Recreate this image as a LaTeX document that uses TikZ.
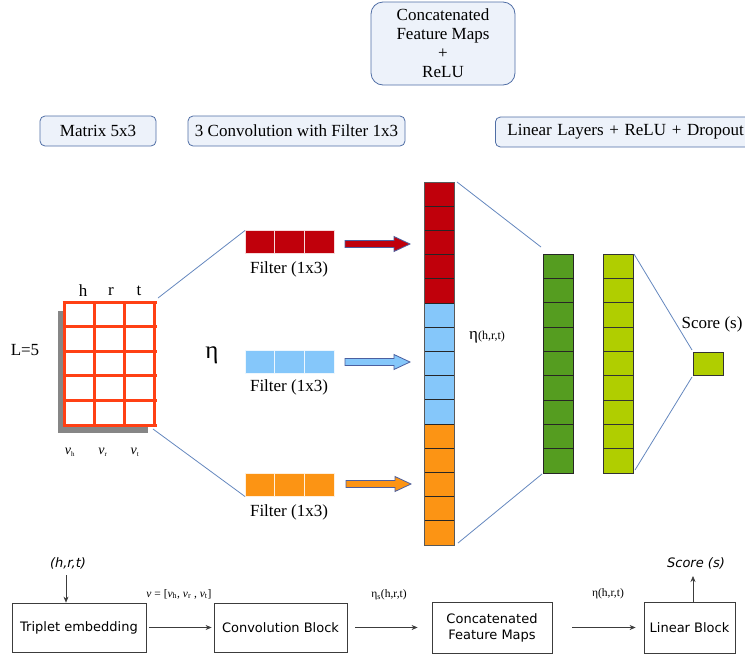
\documentclass[tikz,border=0pt]{standalone}
\usepackage{fontspec}
\setmainfont{Liberation Serif}
\newfontfamily\flowfont{DejaVu Sans}
\usetikzlibrary{arrows.meta}
\definecolor{cred}{RGB}{192,0,11}
\definecolor{cblue}{RGB}{133,199,250}
\definecolor{corange}{RGB}{252,148,20}
\definecolor{cgreen}{RGB}{85,157,32}
\definecolor{clime}{RGB}{176,206,0}
\definecolor{cgrid}{RGB}{255,64,20}
\definecolor{cline}{RGB}{100,135,190}
\definecolor{bxborder}{RGB}{80,110,165}
\definecolor{bxfill}{RGB}{237,242,250}
\definecolor{flowgray}{RGB}{60,60,60}
\definecolor{arrborder}{RGB}{75,95,160}
\tikzset{
  lbl/.style={draw=bxborder, fill=bxfill, rounded corners=5pt, line width=0.8pt,
    font=\fontsize{17}{19}\selectfont, inner sep=0pt, minimum height=30pt},
  conn/.style={draw=cline, line width=0.8pt},
  txt/.style={font=\fontsize{17}{19}\selectfont, inner sep=0pt},
  colbox/.style={minimum width=30pt, inner sep=0pt, outer sep=0pt},
  filt/.style={minimum width=89pt, minimum height=23pt, inner sep=0pt, outer sep=0pt},
  blockarrow/.style={line width=0.8pt, draw=arrborder, line join=miter},
  flowbox/.style={draw=flowgray, line width=0.8pt, font=\flowfont\fontsize{13}{16}\selectfont,
    inner sep=0pt, align=center},
  flowarrow/.style={draw=flowgray, line width=0.6pt, -{Stealth[length=6pt,width=5pt]}},
  flowtxt/.style={font=\fontsize{11.5}{13}\selectfont, inner sep=0pt},
}
% block arrow: x0, y, x1, fill colour
\newcommand{\myblockarrow}[4]{%
  \draw[blockarrow, fill=#4] (#1,#2-3.5) -- (#3-16,#2-3.5) -- (#3-16,#2-7.5) -- (#3,#2)
    -- (#3-16,#2+7.5) -- (#3-16,#2+3.5) -- (#1,#2+3.5) -- cycle;}
\begin{document}
\begin{tikzpicture}[x=1pt,y=-1pt]
\useasboundingbox (0,0) rectangle (745,654);

% ---- top labels
\node[lbl, minimum width=144pt, minimum height=83pt, rounded corners=12pt, align=center,
  font=\fontsize{17}{19}\selectfont] (cfmtop) at (443,43.5)
  {Concatenated\\Feature Maps\\+\\ReLU};
\node[lbl, minimum width=116pt] (mlbl) at (98,131) {Matrix 5x3};
\node[lbl, minimum width=217pt] (clbl) at (296.5,131) {3 Convolution with Filter 1x3};
\node[lbl, minimum width=262pt, anchor=west, text width=262pt, align=left] (llbl) at (495,132)
  {\hspace*{12pt}Linear Layers + ReLU + Dropout};

% ---- matrix
\fill[gray!95] (58,311) rectangle (148,433);
\node[fill=white, minimum width=91pt, minimum height=123pt, inner sep=0pt, outer sep=0pt]
  (mat) at (109.5,363.5) {};
\foreach \i in {0,1,2,3} \draw[cgrid, line width=3pt] (64+\i*30.33,302) -- (64+\i*30.33,425);
\foreach \j in {0,...,5} \draw[cgrid, line width=3pt] (62.5,302+\j*24.6) -- (156.5,302+\j*24.6);
\node[txt] (lh) at (83,291) {h};
\node[txt] (lr) at (111,291) {r};
\node[txt] (lt) at (139,291) {t};
\node[txt] (l5) at (25,350) {L=5};
\node[font=\fontsize{14}{16}\selectfont, inner sep=0pt] (nh) at (70,452) {\textit{ν}\textsubscript{\scriptsize h}};
\node[font=\fontsize{14}{16}\selectfont, inner sep=0pt] (nr) at (103,452) {\textit{ν}\textsubscript{\scriptsize r}};
\node[font=\fontsize{14}{16}\selectfont, inner sep=0pt] (nt) at (135,452) {\textit{ν}\textsubscript{\scriptsize t}};
\node[font=\fontsize{25}{28}\selectfont, inner sep=0pt] (eta) at (212,355) {η};

% ---- filters
\node[filt] (fr) at (289.5,242) {};
\node[filt] (fb) at (289.5,362) {};
\node[filt] (fo) at (289.5,485) {};
\foreach \f/\c in {fr/cred, fb/cblue, fo/corange}{
  \foreach \k in {0,1,2}
    \draw[fill=\c, draw=white!85!\c, line width=0.8pt]
      ([xshift=\k*29.67pt]\f.north west) rectangle ([xshift=(\k+1)*29.67pt]\f.south west);
}
\node[txt] (frl) at (289,269) {Filter (1x3)};
\node[txt] (fbl) at (289,387) {Filter (1x3)};
\node[txt] (fol) at (289,512) {Filter (1x3)};

\draw[conn] ([shift={(3,-4)}]mat.north east) -- (fr.north west);
\draw[conn] ([shift={(-2,4)}]mat.south east) -- (fo.south west);

% ---- block arrows
\myblockarrow{345}{244}{410}{cred}
\myblockarrow{345}{362}{410}{cblue}
\myblockarrow{346}{484}{411}{corange}

% ---- concatenated column
\node[colbox, minimum height=363pt] (col) at (439,363.5) {};
\foreach \i in {0,...,14}{
  \pgfmathsetmacro{\cc}{\i<5 ? 1 : (\i<10 ? 2 : 3)}
  \ifcase\cc\or
    \draw[fill=cred, draw=black!85, line width=0.7pt] (424,182+\i*24.2) rectangle (454,182+\i*24.2+24.2);
  \or
    \draw[fill=cblue, draw=black!85, line width=0.7pt] (424,182+\i*24.2) rectangle (454,182+\i*24.2+24.2);
  \or
    \draw[fill=corange, draw=black!85, line width=0.7pt] (424,182+\i*24.2) rectangle (454,182+\i*24.2+24.2);
  \fi
}
\draw[gray!70!black, line width=0.8pt] (col.north west) rectangle (col.south east);
\node[inner sep=0pt] (etal) at (487,337) {\fontsize{17}{19}\selectfont η\fontsize{12}{14}\selectfont(h,r,t)};

% ---- linear layers
\node[colbox, minimum height=219pt] (grn) at (558,363.5) {};
\node[colbox, minimum height=219pt] (lim) at (618,363.5) {};
\foreach \i in {0,...,8}{
  \draw[fill=cgreen, draw=black!85, line width=0.7pt] (543,254+\i*24.33) rectangle (573,254+\i*24.33+24.33);
  \draw[fill=clime, draw=black!80, line width=0.7pt] (603,254+\i*24.33) rectangle (633,254+\i*24.33+24.33);
}
\node[draw=black!80, fill=clime, line width=0.7pt, minimum width=30pt, minimum height=23pt,
  inner sep=0pt, outer sep=0pt] (sc) at (708,363.5) {};
\node[txt] (scl) at (712,324) {Score (s)};

\draw[conn] ([shift={(3,0)}]col.north east) -- ([shift={(-2,-7)}]grn.north west);
\draw[conn] ([shift={(4,-2)}]col.south east) -- ([shift={(-1,1)}]grn.south west);
\draw[conn] ([shift={(1,0)}]lim.north east) -- ([shift={(-1,-2)}]sc.north west);
\draw[conn] ([shift={(2,-3)}]lim.south east) -- ([shift={(-1,2)}]sc.south west);

% ---- flowchart
\node[flowbox, minimum width=134pt, minimum height=49pt] (trip) at (79,627.5) {Triplet embedding};
\node[flowbox, minimum width=133pt, minimum height=49pt] (conv) at (280.5,627.5) {Convolution Block};
\node[flowbox, minimum width=120pt, minimum height=51pt] (cfm) at (492,627.5) {Concatenated\\Feature Maps};
\node[flowbox, minimum width=91pt, minimum height=51pt] (lin) at (689.5,627.5) {Linear Block};

\node[font=\flowfont\itshape\fontsize{13}{16}\selectfont, inner sep=0pt] (hrt) at (68,563) {(h,r,t)};
\node[font=\flowfont\itshape\fontsize{13}{16}\selectfont, inner sep=0pt] (sco) at (696,563) {Score (s)};
\node[flowtxt] (nul) at (179,594) {\textit{ν} = [\textit{ν}\textsubscript{h}, \textit{ν}\textsubscript{r} , \textit{ν}\textsubscript{t}]};
\node[flowtxt] (etas) at (389,595) {η\textsubscript{s}(h,r,t)};
\node[flowtxt] (etab) at (608,594) {η(h,r,t)};

\coordinate (hrtb) at ([xshift=-2pt,yshift=-6pt]hrt.south);
\draw[flowarrow] (hrtb) -- (hrtb |- trip.north);
\draw[flowarrow, shorten <=3pt, shorten >=2pt] (trip.east) -- (conv.west);
\draw[flowarrow, shorten <=8pt, shorten >=14pt] (conv.east) -- (cfm.west);
\draw[flowarrow, shorten <=20pt, shorten >=8pt] (cfm.east) -- (lin.west);
\coordinate (scob) at ([xshift=-3pt,yshift=-7pt]sco.south);
\draw[flowarrow] (scob |- lin.north) -- (scob);
\end{tikzpicture}
\end{document}
